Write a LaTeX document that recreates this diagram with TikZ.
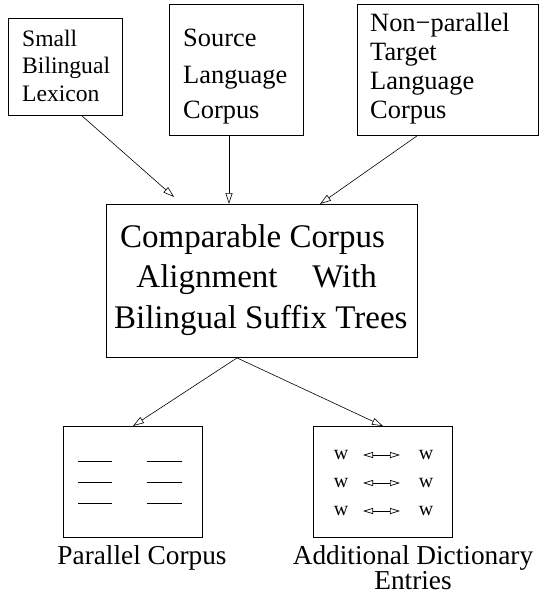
\documentclass[tikz,border=0pt]{standalone}
\usepackage{fontspec}
\setmainfont{Liberation Serif}
\usetikzlibrary{arrows.meta,calc}
\begin{document}
\begin{tikzpicture}[x=1pt,y=-1pt,
  box/.style={draw,line width=0.9pt,rectangle,inner sep=0pt,anchor=north west},
  conn/.style={line width=0.6pt,-{Triangle[open,length=11pt,width=7pt]}},
  dbl/.style={line width=0.7pt,{Triangle[open,length=10pt,width=6pt]}-{Triangle[open,length=10pt,width=6pt]}},
  txt/.style={anchor=base west,inner sep=0pt},
  ctxt/.style={anchor=base,inner sep=0pt},
  rule/.style={line width=0.8pt}]
\useasboundingbox (0,0) rectangle (540,594);
% boxes
\node[box,minimum width=114pt,minimum height=97pt] (lex) at (8,18) {};
\node[box,minimum width=134pt,minimum height=131pt] (src) at (169,4) {};
\node[box,minimum width=181pt,minimum height=131pt] (tgt) at (357,4) {};
\node[box,minimum width=311pt,minimum height=153pt] (main) at (106,204) {};
\node[box,minimum width=139pt,minimum height=111pt] (par) at (63,426) {};
\node[box,minimum width=139pt,minimum height=111pt] (dict) at (313,426) {};
% texts
\begin{scope}[font=\fontsize{23.6}{27}\selectfont]
\node[txt] (l1) at (22,46.7) {Small};
\node[txt] (l2) at (22,74) {Bilingual};
\node[txt] (l3) at (22,101.7) {Lexicon};
\end{scope}
\begin{scope}[font=\fontsize{26.4}{36}\selectfont]
\node[txt] (s1) at (183,46.7) {Source};
\node[txt] (s2) at (183,83) {Language};
\node[txt] (s3) at (183,118.3) {Corpus};
\node[txt] (t1) at (370,31.7) {Non−parallel};
\node[txt] (t2) at (370,60.5) {Target};
\node[txt] (t3) at (370,89.5) {Language};
\node[txt] (t4) at (370,118.3) {Corpus};
\end{scope}
\begin{scope}[font=\fontsize{33}{40}\selectfont]
\node[ctxt] (m1) at (252.5,247) {Comparable Corpus};
\node[ctxt] (m2) at (256.7,287) {Alignment\hspace{0.8em} With};
\node[ctxt] (m3) at (260.8,328) {Bilingual Suffix Trees};
\end{scope}
\begin{scope}[font=\fontsize{27.3}{25}\selectfont]
\node[ctxt] (pl) at (142,564) {Parallel Corpus};
\node[ctxt] (dl1) at (413,564) {Additional Dictionary};
\node[ctxt] (dl2) at (413,589) {Entries};
\end{scope}
% parallel corpus lines
\foreach \y in {461,482,503}{
  \draw[rule] ($(par.north west)+(15,\y-426)$) -- ++(34,0);
  \draw[rule] ($(par.north west)+(84,\y-426)$) -- ++(35,0);
}
% dictionary entries
\begin{scope}[font=\fontsize{20}{22}\selectfont]
\foreach \y [count=\i] in {455,483,511}{
  \node[anchor=base,inner sep=0pt] (wa\i) at (341,\y+4) {w};
  \node[anchor=base,inner sep=0pt] (wb\i) at (426,\y+4) {w};
  \coordinate (da\i) at (363,\y);
  \coordinate (db\i) at (400,\y);
  \draw[dbl] (da\i) -- (db\i);
}
\end{scope}
% connectors
\coordinate (e1) at (174,197);
\draw[conn] ($(lex.south west)+(74,0)$) -- (e1);
\draw[conn] ($(src.south west)+(60,0)$) -- ($(main.north west)+(123,0)$);
\draw[conn] ($(tgt.south west)+(60,0)$) -- ($(main.north west)+(214,0)$);
\draw[conn] ($(main.south west)+(131,0)$) -- (par.north);
\draw[conn] ($(main.south west)+(131,0)$) -- (dict.north);
\end{tikzpicture}
\end{document}
